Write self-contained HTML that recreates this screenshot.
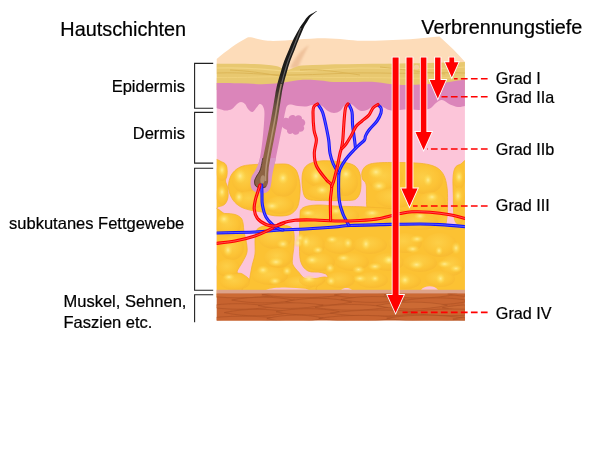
<!DOCTYPE html>
<html lang="de"><head><meta charset="utf-8"><title>Hautschichten und Verbrennungstiefe</title>
<style>
html,body{margin:0;padding:0;background:#fff;}
body{width:600px;height:450px;overflow:hidden;position:relative;}
svg{display:block;position:absolute;left:0;top:0;}
text{font-family:"Liberation Sans",Arial,Helvetica,sans-serif;fill:#000;}
</style></head><body>
<svg width="600" height="450" viewBox="0 0 600 450">
<defs>
<clipPath id="face"><rect x="216.7" y="58" width="248.2" height="262.6"/></clipPath>
<linearGradient id="hairg" gradientUnits="userSpaceOnUse" x1="0" y1="12" x2="0" y2="190">
<stop offset="0" stop-color="#151515"/><stop offset="0.35" stop-color="#1e1c1b"/><stop offset="0.44" stop-color="#3d322b"/><stop offset="0.53" stop-color="#6b5240"/><stop offset="0.66" stop-color="#8c6647"/><stop offset="1" stop-color="#8e6242"/>
</linearGradient>
<radialGradient id="hl"><stop offset="0" stop-color="#fff3a0" stop-opacity="0.85"/><stop offset="0.5" stop-color="#ffe468" stop-opacity="0.5"/><stop offset="1" stop-color="#ffd84a" stop-opacity="0"/></radialGradient>
<radialGradient id="lobe" cx="0.45" cy="0.4" r="0.7"><stop offset="0" stop-color="#fdd34e"/><stop offset="0.6" stop-color="#fcc336"/><stop offset="1" stop-color="#f4b22e"/></radialGradient>
<filter id="blur1" x="-30%" y="-30%" width="160%" height="160%"><feGaussianBlur stdDeviation="1.3"/></filter>
</defs>

<path d="M216.7,59 C226,51 237,43 247.5,37.5 C252,36.6 258,39.5 268,40.8 C285,41.5 305,38.2 325,38.3 C340,38.4 350,40.8 362,40.8 C380,40.8 395,39.8 410,39.2 C422,38.6 432,37.2 439.5,36.6 C449,45 458,54 465,62 L464.9,74 L216.7,74 Z" fill="#fddcb9"/>
<path d="M290,68 C295,57 301,50 309,45 C305,52 301,60 298,68 Z" fill="#eebf98" opacity="0.9" filter="url(#blur1)"/>
<g clip-path="url(#face)">
<rect x="216" y="78" width="250" height="217" fill="#fcc5d9"/>
<path d="M216,63.8 C240,63.5 262,63.5 276,66 C282,67.5 284,70 288,70 C292,69 296,66 302,65.5 C330,64 360,64 400,63.5 C425,63 450,62.5 465,62 L466,90 L216,90 Z" fill="#e8c870"/>
<path d="M217,68 C240,67 260,69 285,71 C310,73 330,68 360,68 C400,68 430,70 465,67" fill="none" stroke="#f2d584" stroke-width="1.2"/>
<path d="M217,73 C245,72 262,75 290,75 C320,75 350,72 380,73 C410,74 440,72 465,73" fill="none" stroke="#dcb658" stroke-width="1.0"/>
<path d="M217,77.5 C245,78 270,76 300,77 C330,78 360,77 395,78 C425,79 445,77 465,77" fill="none" stroke="#f0d17c" stroke-width="1.0"/>
<path d="M230,70 C250,71 262,73 280,76" fill="none" stroke="#d9b252" stroke-width="0.8"/>
<path d="M300,70 C320,69 340,72 360,75" fill="none" stroke="#d9b252" stroke-width="0.8"/>
<path d="M380,67 C400,69 420,72 445,74" fill="none" stroke="#d9b252" stroke-width="0.8"/>
<ellipse cx="416.5" cy="67.2" rx="2.6" ry="2.4" fill="#f6cfa0"/>
<path d="M216,83 C220.0,83.0 232.3,83.1 240.0,83.3 C247.7,83.5 255.3,84.2 262.0,84.2 C268.7,84.2 273.2,83.7 280.0,83.0 C286.8,82.3 296.3,80.2 303.0,79.8 C309.7,79.4 315.0,80.1 320.0,80.5 C325.0,80.9 328.0,81.8 333.0,82.0 C338.0,82.2 343.5,82.0 350.0,82.0 C356.5,82.0 365.3,81.5 372.0,81.8 C378.7,82.1 385.0,83.5 390.0,84.0 C395.0,84.5 397.0,84.9 402.0,85.0 C407.0,85.1 413.3,84.9 420.0,84.6 C426.7,84.3 436.2,83.6 442.0,83.0 C447.8,82.4 451.2,81.6 455.0,81.0 C458.8,80.4 463.3,79.8 465.0,79.5 L465,106 C463.8,106.2 460.5,107.2 458.0,107.0 C455.5,106.8 452.7,105.7 450.0,104.5 C447.3,103.3 444.3,100.2 442.0,100.0 C439.7,99.8 438.0,101.6 436.0,103.0 C434.0,104.4 432.7,107.3 430.0,108.5 C427.3,109.7 423.0,109.8 420.0,110.0 C417.0,110.2 414.7,109.6 412.0,109.5 C409.3,109.4 406.7,109.3 404.0,109.5 C401.3,109.7 398.5,110.4 396.0,110.5 C393.5,110.6 391.2,110.6 389.0,110.0 C386.8,109.4 384.8,107.9 383.0,107.0 C381.2,106.1 379.7,104.7 378.0,104.5 C376.3,104.3 374.8,105.1 373.0,106.0 C371.2,106.9 369.0,109.2 367.0,110.0 C365.0,110.8 362.8,111.3 361.0,111.0 C359.2,110.7 357.5,109.1 356.0,108.0 C354.5,106.9 353.3,105.2 352.0,104.5 C350.7,103.8 349.3,103.2 348.0,103.5 C346.7,103.8 345.3,104.8 344.0,106.0 C342.7,107.2 341.7,109.8 340.0,111.0 C338.3,112.2 336.0,113.0 334.0,113.0 C332.0,113.0 330.0,112.2 328.0,111.0 C326.0,109.8 323.8,107.2 322.0,106.0 C320.2,104.8 319.2,104.2 317.5,104.0 C315.8,103.8 313.9,104.6 312.0,105.0 C310.1,105.4 308.3,106.3 306.0,106.5 C303.7,106.7 300.5,106.3 298.0,106.0 C295.5,105.7 292.8,104.5 291.0,104.5 C289.2,104.5 288.0,104.8 287.0,106.0 C286.0,107.2 285.8,109.7 285.2,112.0 C284.6,114.3 284.6,115.3 283.6,120.0 C282.7,124.7 280.9,133.3 279.5,140.0 C278.1,146.7 276.7,154.2 275.5,160.0 C274.3,165.8 273.0,171.2 272.3,175.0 C271.6,178.8 271.8,180.6 271.3,183.0 C270.8,185.4 270.6,187.8 269.5,189.5 C268.4,191.2 266.9,192.4 265.0,193.0 C263.1,193.6 260.1,193.5 258.0,193.0 C255.9,192.5 253.8,191.5 252.5,190.0 C251.2,188.5 250.7,186.2 250.5,184.0 C250.3,181.8 250.7,179.3 251.5,177.0 C252.3,174.7 254.2,172.8 255.5,170.0 C256.8,167.2 258.3,165.0 259.5,160.0 C260.7,155.0 261.7,146.7 262.5,140.0 C263.3,133.3 263.9,125.0 264.2,120.0 C264.5,115.0 264.6,112.5 264.2,110.0 C263.8,107.5 262.8,106.0 262.0,105.0 C261.2,104.0 260.3,103.7 259.5,104.0 C258.7,104.3 258.2,105.7 257.0,107.0 C255.8,108.3 254.0,111.7 252.5,112.0 C251.0,112.3 249.2,110.3 248.0,109.0 C246.8,107.7 246.2,105.2 245.0,104.0 C243.8,102.8 242.3,102.0 241.0,102.0 C239.7,102.0 238.5,102.8 237.0,104.0 C235.5,105.2 233.8,107.9 232.0,109.0 C230.2,110.1 227.8,110.4 226.0,110.5 C224.2,110.6 222.7,109.9 221.0,109.5 C219.3,109.1 216.8,108.2 216.0,108.0 Z" fill="#db85ba"/>
<path d="M283,119 C285,117 287,117.5 288.5,118.5 C289,115 293.5,114 295.5,116.5 C298,114 302.5,115.5 302,119 C305.5,119.5 306.5,124 303.5,126 C305.5,129 303,132.5 299.5,131.5 C299,135 294.5,136 292.5,133 C290,135 286.5,133.5 287,130 C284,129 282,127 281,125 Z" fill="#db85ba"/>
<clipPath id="fatclip">
<path d="M213.0,163.0 C214.5,155.7 219.8,161.5 222.0,162.0 C224.2,162.5 225.7,163.8 226.5,166.0 C227.3,168.2 227.2,172.5 227.0,175.0 C226.8,177.5 225.4,179.0 225.5,181.0 C225.6,183.0 227.1,184.3 227.5,187.0 C227.9,189.7 228.4,194.2 228.0,197.0 C227.6,199.8 226.5,202.4 225.0,204.0 C223.5,205.6 221.0,206.2 219.0,206.5 C217.0,206.8 214.0,213.2 213.0,206.0 C212.0,198.8 211.5,170.3 213.0,163.0 Z"/>
<path d="M228.6,189.0 C228.1,185.3 228.9,181.1 230.0,178.0 C231.1,174.9 232.8,172.5 235.0,170.5 C237.2,168.5 239.7,167.0 243.0,166.0 C246.3,165.0 250.5,164.8 255.0,164.5 C259.5,164.2 265.0,164.6 270.0,164.5 C275.0,164.4 281.3,163.7 285.0,164.0 C288.7,164.3 290.0,165.2 292.0,166.5 C294.0,167.8 295.7,168.9 297.0,172.0 C298.3,175.1 299.6,180.7 300.0,185.0 C300.4,189.3 300.0,194.2 299.5,198.0 C299.0,201.8 298.6,205.2 297.0,208.0 C295.4,210.8 292.8,213.2 290.0,214.5 C287.2,215.8 283.3,215.9 280.0,216.0 C276.7,216.1 273.0,215.7 270.0,215.0 C267.0,214.3 265.0,212.8 262.0,212.0 C259.0,211.2 255.5,211.3 252.0,210.5 C248.5,209.7 244.2,208.8 241.0,207.0 C237.8,205.2 235.1,203.0 233.0,200.0 C230.9,197.0 229.1,192.7 228.6,189.0 Z"/>
<path d="M302.0,181.0 C301.9,176.8 302.3,172.8 303.5,170.0 C304.7,167.2 306.2,165.5 309.0,164.0 C311.8,162.5 316.2,161.5 320.0,161.0 C323.8,160.5 327.8,160.8 332.0,161.0 C336.2,161.2 341.2,161.7 345.0,162.5 C348.8,163.3 352.5,164.1 355.0,166.0 C357.5,167.9 359.0,170.8 360.0,174.0 C361.0,177.2 361.1,181.7 361.0,185.0 C360.9,188.3 360.5,191.6 359.5,194.0 C358.5,196.4 357.4,198.4 355.0,199.5 C352.6,200.6 350.8,200.3 345.0,200.5 C339.2,200.7 326.0,200.7 320.0,200.5 C314.0,200.3 311.7,200.4 309.0,199.5 C306.3,198.6 305.2,198.1 304.0,195.0 C302.8,191.9 302.1,185.2 302.0,181.0 Z"/>
<path d="M362.0,172.0 C362.6,169.8 363.7,167.5 366.0,166.0 C368.3,164.5 370.3,163.6 376.0,163.0 C381.7,162.4 392.7,162.4 400.0,162.5 C407.3,162.6 414.7,162.8 420.0,163.3 C425.3,163.8 428.7,164.4 432.0,165.5 C435.3,166.6 437.8,167.9 440.0,170.0 C442.2,172.1 443.8,174.7 445.0,178.0 C446.2,181.3 446.9,185.5 447.3,190.0 C447.7,194.5 447.6,200.5 447.5,205.0 C447.4,209.5 447.5,213.3 447.0,217.0 C446.5,220.7 446.3,224.5 444.5,227.0 C442.7,229.5 443.4,231.5 436.0,232.0 C428.6,232.5 410.7,231.7 400.0,230.0 C389.3,228.3 377.5,225.7 372.0,222.0 C366.5,218.3 367.9,212.5 367.0,208.0 C366.1,203.5 366.7,199.0 366.5,195.0 C366.3,191.0 366.7,186.7 366.0,184.0 C365.3,181.3 363.2,181.0 362.5,179.0 C361.8,177.0 361.4,174.2 362.0,172.0 Z"/>
<path d="M470.0,164.0 C468.3,153.8 462.5,163.8 460.0,164.5 C457.5,165.2 456.2,165.8 455.0,168.0 C453.8,170.2 453.3,173.5 453.0,178.0 C452.7,182.5 453.2,189.7 453.3,195.0 C453.4,200.3 453.3,206.0 453.5,210.0 C453.7,214.0 453.8,216.7 454.5,219.0 C455.2,221.3 455.4,222.8 458.0,224.0 C460.6,225.2 468.0,236.0 470.0,226.0 C472.0,216.0 471.7,174.2 470.0,164.0 Z"/>
<path d="M212.0,214.5 C214.2,201.2 221.2,213.5 225.0,213.5 C228.8,213.5 232.3,213.8 235.0,214.5 C237.7,215.2 239.7,216.6 241.0,218.0 C242.3,219.4 242.5,220.7 243.0,223.0 C243.5,225.3 243.5,229.2 244.0,232.0 C244.5,234.8 245.5,236.7 246.0,240.0 C246.5,243.3 247.6,248.3 247.0,252.0 C246.4,255.7 244.2,258.7 242.5,262.0 C240.8,265.3 237.1,270.0 237.0,272.0 C236.9,274.0 240.1,272.7 242.0,273.8 C243.9,274.9 247.0,276.8 248.5,278.5 C250.0,280.2 250.4,281.6 251.0,284.0 C251.6,286.4 258.5,291.5 252.0,293.0 C245.5,294.5 218.7,306.1 212.0,293.0 C205.3,279.9 209.8,227.8 212.0,214.5 Z"/>
<path d="M255.0,240.0 C255.2,236.2 254.8,233.2 256.0,231.0 C257.2,228.8 258.8,227.5 262.0,226.5 C265.2,225.5 270.7,225.1 275.0,225.0 C279.3,224.9 284.9,225.0 288.0,226.0 C291.1,227.0 292.5,227.8 293.5,231.0 C294.5,234.2 294.2,240.5 294.0,245.0 C293.8,249.5 292.7,254.7 292.5,258.0 C292.3,261.3 291.9,262.6 293.0,265.0 C294.1,267.4 297.0,270.2 299.0,272.5 C301.0,274.8 302.3,277.5 305.0,278.5 C307.7,279.5 311.2,278.6 315.0,278.5 C318.8,278.4 325.2,275.6 328.0,278.0 C330.8,280.4 345.3,290.5 332.0,293.0 C318.7,295.5 261.8,295.2 248.0,293.0 C234.2,290.8 248.8,284.5 249.5,280.0 C250.2,275.5 251.1,270.3 252.0,266.0 C252.9,261.7 254.5,258.3 255.0,254.0 C255.5,249.7 254.8,243.8 255.0,240.0 Z"/>
<path d="M300.0,215.0 C300.3,209.8 300.2,210.5 301.5,209.0 C302.8,207.5 304.9,206.7 308.0,206.0 C311.1,205.3 315.5,205.0 320.0,205.0 C324.5,205.0 330.0,205.8 335.0,206.0 C340.0,206.2 345.0,206.3 350.0,206.5 C355.0,206.7 356.7,206.4 365.0,207.0 C373.3,207.6 388.2,207.5 400.0,210.0 C411.8,212.5 428.7,219.3 436.0,222.0 C443.3,224.7 441.7,225.5 444.0,226.0 C446.3,226.5 448.2,225.2 450.0,225.0 C451.8,224.8 453.3,224.8 455.0,224.5 C456.7,224.2 457.5,223.4 460.0,223.0 C462.5,222.6 468.3,210.3 470.0,222.0 C471.7,233.7 494.0,281.2 470.0,293.0 C446.0,304.8 349.7,295.7 326.0,293.0 C302.3,290.3 328.8,280.4 328.0,277.0 C327.2,273.6 324.3,273.5 321.0,272.5 C317.7,271.5 311.4,272.9 308.0,271.0 C304.6,269.1 301.9,266.2 300.5,261.0 C299.1,255.8 299.6,247.7 299.5,240.0 C299.4,232.3 299.7,220.2 300.0,215.0 Z"/>
</clipPath>
<path d="M213.0,163.0 C214.5,155.7 219.8,161.5 222.0,162.0 C224.2,162.5 225.7,163.8 226.5,166.0 C227.3,168.2 227.2,172.5 227.0,175.0 C226.8,177.5 225.4,179.0 225.5,181.0 C225.6,183.0 227.1,184.3 227.5,187.0 C227.9,189.7 228.4,194.2 228.0,197.0 C227.6,199.8 226.5,202.4 225.0,204.0 C223.5,205.6 221.0,206.2 219.0,206.5 C217.0,206.8 214.0,213.2 213.0,206.0 C212.0,198.8 211.5,170.3 213.0,163.0 Z" fill="#fcc233" stroke="#f4b42e" stroke-width="0.8"/>
<path d="M228.6,189.0 C228.1,185.3 228.9,181.1 230.0,178.0 C231.1,174.9 232.8,172.5 235.0,170.5 C237.2,168.5 239.7,167.0 243.0,166.0 C246.3,165.0 250.5,164.8 255.0,164.5 C259.5,164.2 265.0,164.6 270.0,164.5 C275.0,164.4 281.3,163.7 285.0,164.0 C288.7,164.3 290.0,165.2 292.0,166.5 C294.0,167.8 295.7,168.9 297.0,172.0 C298.3,175.1 299.6,180.7 300.0,185.0 C300.4,189.3 300.0,194.2 299.5,198.0 C299.0,201.8 298.6,205.2 297.0,208.0 C295.4,210.8 292.8,213.2 290.0,214.5 C287.2,215.8 283.3,215.9 280.0,216.0 C276.7,216.1 273.0,215.7 270.0,215.0 C267.0,214.3 265.0,212.8 262.0,212.0 C259.0,211.2 255.5,211.3 252.0,210.5 C248.5,209.7 244.2,208.8 241.0,207.0 C237.8,205.2 235.1,203.0 233.0,200.0 C230.9,197.0 229.1,192.7 228.6,189.0 Z" fill="#fcc233" stroke="#f4b42e" stroke-width="0.8"/>
<path d="M302.0,181.0 C301.9,176.8 302.3,172.8 303.5,170.0 C304.7,167.2 306.2,165.5 309.0,164.0 C311.8,162.5 316.2,161.5 320.0,161.0 C323.8,160.5 327.8,160.8 332.0,161.0 C336.2,161.2 341.2,161.7 345.0,162.5 C348.8,163.3 352.5,164.1 355.0,166.0 C357.5,167.9 359.0,170.8 360.0,174.0 C361.0,177.2 361.1,181.7 361.0,185.0 C360.9,188.3 360.5,191.6 359.5,194.0 C358.5,196.4 357.4,198.4 355.0,199.5 C352.6,200.6 350.8,200.3 345.0,200.5 C339.2,200.7 326.0,200.7 320.0,200.5 C314.0,200.3 311.7,200.4 309.0,199.5 C306.3,198.6 305.2,198.1 304.0,195.0 C302.8,191.9 302.1,185.2 302.0,181.0 Z" fill="#fcc233" stroke="#f4b42e" stroke-width="0.8"/>
<path d="M362.0,172.0 C362.6,169.8 363.7,167.5 366.0,166.0 C368.3,164.5 370.3,163.6 376.0,163.0 C381.7,162.4 392.7,162.4 400.0,162.5 C407.3,162.6 414.7,162.8 420.0,163.3 C425.3,163.8 428.7,164.4 432.0,165.5 C435.3,166.6 437.8,167.9 440.0,170.0 C442.2,172.1 443.8,174.7 445.0,178.0 C446.2,181.3 446.9,185.5 447.3,190.0 C447.7,194.5 447.6,200.5 447.5,205.0 C447.4,209.5 447.5,213.3 447.0,217.0 C446.5,220.7 446.3,224.5 444.5,227.0 C442.7,229.5 443.4,231.5 436.0,232.0 C428.6,232.5 410.7,231.7 400.0,230.0 C389.3,228.3 377.5,225.7 372.0,222.0 C366.5,218.3 367.9,212.5 367.0,208.0 C366.1,203.5 366.7,199.0 366.5,195.0 C366.3,191.0 366.7,186.7 366.0,184.0 C365.3,181.3 363.2,181.0 362.5,179.0 C361.8,177.0 361.4,174.2 362.0,172.0 Z" fill="#fcc233" stroke="#f4b42e" stroke-width="0.8"/>
<path d="M470.0,164.0 C468.3,153.8 462.5,163.8 460.0,164.5 C457.5,165.2 456.2,165.8 455.0,168.0 C453.8,170.2 453.3,173.5 453.0,178.0 C452.7,182.5 453.2,189.7 453.3,195.0 C453.4,200.3 453.3,206.0 453.5,210.0 C453.7,214.0 453.8,216.7 454.5,219.0 C455.2,221.3 455.4,222.8 458.0,224.0 C460.6,225.2 468.0,236.0 470.0,226.0 C472.0,216.0 471.7,174.2 470.0,164.0 Z" fill="#fcc233" stroke="#f4b42e" stroke-width="0.8"/>
<path d="M212.0,214.5 C214.2,201.2 221.2,213.5 225.0,213.5 C228.8,213.5 232.3,213.8 235.0,214.5 C237.7,215.2 239.7,216.6 241.0,218.0 C242.3,219.4 242.5,220.7 243.0,223.0 C243.5,225.3 243.5,229.2 244.0,232.0 C244.5,234.8 245.5,236.7 246.0,240.0 C246.5,243.3 247.6,248.3 247.0,252.0 C246.4,255.7 244.2,258.7 242.5,262.0 C240.8,265.3 237.1,270.0 237.0,272.0 C236.9,274.0 240.1,272.7 242.0,273.8 C243.9,274.9 247.0,276.8 248.5,278.5 C250.0,280.2 250.4,281.6 251.0,284.0 C251.6,286.4 258.5,291.5 252.0,293.0 C245.5,294.5 218.7,306.1 212.0,293.0 C205.3,279.9 209.8,227.8 212.0,214.5 Z" fill="#fcc233" stroke="#f4b42e" stroke-width="0.8"/>
<path d="M255.0,240.0 C255.2,236.2 254.8,233.2 256.0,231.0 C257.2,228.8 258.8,227.5 262.0,226.5 C265.2,225.5 270.7,225.1 275.0,225.0 C279.3,224.9 284.9,225.0 288.0,226.0 C291.1,227.0 292.5,227.8 293.5,231.0 C294.5,234.2 294.2,240.5 294.0,245.0 C293.8,249.5 292.7,254.7 292.5,258.0 C292.3,261.3 291.9,262.6 293.0,265.0 C294.1,267.4 297.0,270.2 299.0,272.5 C301.0,274.8 302.3,277.5 305.0,278.5 C307.7,279.5 311.2,278.6 315.0,278.5 C318.8,278.4 325.2,275.6 328.0,278.0 C330.8,280.4 345.3,290.5 332.0,293.0 C318.7,295.5 261.8,295.2 248.0,293.0 C234.2,290.8 248.8,284.5 249.5,280.0 C250.2,275.5 251.1,270.3 252.0,266.0 C252.9,261.7 254.5,258.3 255.0,254.0 C255.5,249.7 254.8,243.8 255.0,240.0 Z" fill="#fcc233" stroke="#f4b42e" stroke-width="0.8"/>
<path d="M300.0,215.0 C300.3,209.8 300.2,210.5 301.5,209.0 C302.8,207.5 304.9,206.7 308.0,206.0 C311.1,205.3 315.5,205.0 320.0,205.0 C324.5,205.0 330.0,205.8 335.0,206.0 C340.0,206.2 345.0,206.3 350.0,206.5 C355.0,206.7 356.7,206.4 365.0,207.0 C373.3,207.6 388.2,207.5 400.0,210.0 C411.8,212.5 428.7,219.3 436.0,222.0 C443.3,224.7 441.7,225.5 444.0,226.0 C446.3,226.5 448.2,225.2 450.0,225.0 C451.8,224.8 453.3,224.8 455.0,224.5 C456.7,224.2 457.5,223.4 460.0,223.0 C462.5,222.6 468.3,210.3 470.0,222.0 C471.7,233.7 494.0,281.2 470.0,293.0 C446.0,304.8 349.7,295.7 326.0,293.0 C302.3,290.3 328.8,280.4 328.0,277.0 C327.2,273.6 324.3,273.5 321.0,272.5 C317.7,271.5 311.4,272.9 308.0,271.0 C304.6,269.1 301.9,266.2 300.5,261.0 C299.1,255.8 299.6,247.7 299.5,240.0 C299.4,232.3 299.7,220.2 300.0,215.0 Z" fill="#fcc233" stroke="#f4b42e" stroke-width="0.8"/>
<g clip-path="url(#fatclip)">
<ellipse cx="222" cy="172" rx="6" ry="9" fill="url(#lobe)" opacity="0.75"/>
<ellipse cx="222" cy="195" rx="6" ry="10" fill="url(#lobe)" opacity="0.75"/>
<ellipse cx="245" cy="180" rx="13" ry="13" fill="url(#lobe)" opacity="0.75"/>
<ellipse cx="250" cy="200" rx="16" ry="9" fill="url(#lobe)" opacity="0.75"/>
<ellipse cx="283" cy="182" rx="14" ry="15" fill="url(#lobe)" opacity="0.75"/>
<ellipse cx="280" cy="205" rx="14" ry="9" fill="url(#lobe)" opacity="0.75"/>
<ellipse cx="320" cy="175" rx="16" ry="12" fill="url(#lobe)" opacity="0.75"/>
<ellipse cx="345" cy="182" rx="13" ry="14" fill="url(#lobe)" opacity="0.75"/>
<ellipse cx="325" cy="192" rx="18" ry="8" fill="url(#lobe)" opacity="0.75"/>
<ellipse cx="385" cy="178" rx="18" ry="13" fill="url(#lobe)" opacity="0.75"/>
<ellipse cx="425" cy="180" rx="18" ry="14" fill="url(#lobe)" opacity="0.75"/>
<ellipse cx="395" cy="198" rx="20" ry="10" fill="url(#lobe)" opacity="0.75"/>
<ellipse cx="432" cy="202" rx="14" ry="10" fill="url(#lobe)" opacity="0.75"/>
<ellipse cx="459" cy="178" rx="6" ry="11" fill="url(#lobe)" opacity="0.75"/>
<ellipse cx="459" cy="197" rx="6" ry="10" fill="url(#lobe)" opacity="0.75"/>
<ellipse cx="228" cy="225" rx="13" ry="11" fill="url(#lobe)" opacity="0.75"/>
<ellipse cx="232" cy="248" rx="12" ry="12" fill="url(#lobe)" opacity="0.75"/>
<ellipse cx="228" cy="268" rx="12" ry="9" fill="url(#lobe)" opacity="0.75"/>
<ellipse cx="235" cy="282" rx="15" ry="8" fill="url(#lobe)" opacity="0.75"/>
<ellipse cx="275" cy="238" rx="17" ry="11" fill="url(#lobe)" opacity="0.75"/>
<ellipse cx="278" cy="258" rx="14" ry="10" fill="url(#lobe)" opacity="0.75"/>
<ellipse cx="270" cy="276" rx="18" ry="9" fill="url(#lobe)" opacity="0.75"/>
<ellipse cx="300" cy="283" rx="16" ry="7" fill="url(#lobe)" opacity="0.75"/>
<ellipse cx="318" cy="218" rx="15" ry="9" fill="url(#lobe)" opacity="0.75"/>
<ellipse cx="345" cy="216" rx="14" ry="8" fill="url(#lobe)" opacity="0.75"/>
<ellipse cx="375" cy="218" rx="14" ry="8" fill="url(#lobe)" opacity="0.75"/>
<ellipse cx="420" cy="222" rx="18" ry="8" fill="url(#lobe)" opacity="0.75"/>
<ellipse cx="450" cy="222" rx="12" ry="8" fill="url(#lobe)" opacity="0.75"/>
<ellipse cx="312" cy="245" rx="13" ry="11" fill="url(#lobe)" opacity="0.75"/>
<ellipse cx="340" cy="245" rx="16" ry="9" fill="url(#lobe)" opacity="0.75"/>
<ellipse cx="370" cy="245" rx="17" ry="9" fill="url(#lobe)" opacity="0.75"/>
<ellipse cx="405" cy="243" rx="17" ry="10" fill="url(#lobe)" opacity="0.75"/>
<ellipse cx="440" cy="245" rx="17" ry="12" fill="url(#lobe)" opacity="0.75"/>
<ellipse cx="320" cy="262" rx="15" ry="9" fill="url(#lobe)" opacity="0.75"/>
<ellipse cx="352" cy="262" rx="17" ry="9" fill="url(#lobe)" opacity="0.75"/>
<ellipse cx="388" cy="262" rx="16" ry="9" fill="url(#lobe)" opacity="0.75"/>
<ellipse cx="420" cy="263" rx="17" ry="9" fill="url(#lobe)" opacity="0.75"/>
<ellipse cx="452" cy="266" rx="12" ry="10" fill="url(#lobe)" opacity="0.75"/>
<ellipse cx="312" cy="280" rx="13" ry="7" fill="url(#lobe)" opacity="0.75"/>
<ellipse cx="340" cy="280" rx="15" ry="8" fill="url(#lobe)" opacity="0.75"/>
<ellipse cx="372" cy="280" rx="16" ry="8" fill="url(#lobe)" opacity="0.75"/>
<ellipse cx="405" cy="281" rx="16" ry="8" fill="url(#lobe)" opacity="0.75"/>
<ellipse cx="440" cy="279" rx="15" ry="8" fill="url(#lobe)" opacity="0.75"/>
</g>
<clipPath id="shc"><rect x="244" y="158" width="36" height="42"/></clipPath>
<path d="M216,83 C220.0,83.0 232.3,83.1 240.0,83.3 C247.7,83.5 255.3,84.2 262.0,84.2 C268.7,84.2 273.2,83.7 280.0,83.0 C286.8,82.3 296.3,80.2 303.0,79.8 C309.7,79.4 315.0,80.1 320.0,80.5 C325.0,80.9 328.0,81.8 333.0,82.0 C338.0,82.2 343.5,82.0 350.0,82.0 C356.5,82.0 365.3,81.5 372.0,81.8 C378.7,82.1 385.0,83.5 390.0,84.0 C395.0,84.5 397.0,84.9 402.0,85.0 C407.0,85.1 413.3,84.9 420.0,84.6 C426.7,84.3 436.2,83.6 442.0,83.0 C447.8,82.4 451.2,81.6 455.0,81.0 C458.8,80.4 463.3,79.8 465.0,79.5 L465,106 C463.8,106.2 460.5,107.2 458.0,107.0 C455.5,106.8 452.7,105.7 450.0,104.5 C447.3,103.3 444.3,100.2 442.0,100.0 C439.7,99.8 438.0,101.6 436.0,103.0 C434.0,104.4 432.7,107.3 430.0,108.5 C427.3,109.7 423.0,109.8 420.0,110.0 C417.0,110.2 414.7,109.6 412.0,109.5 C409.3,109.4 406.7,109.3 404.0,109.5 C401.3,109.7 398.5,110.4 396.0,110.5 C393.5,110.6 391.2,110.6 389.0,110.0 C386.8,109.4 384.8,107.9 383.0,107.0 C381.2,106.1 379.7,104.7 378.0,104.5 C376.3,104.3 374.8,105.1 373.0,106.0 C371.2,106.9 369.0,109.2 367.0,110.0 C365.0,110.8 362.8,111.3 361.0,111.0 C359.2,110.7 357.5,109.1 356.0,108.0 C354.5,106.9 353.3,105.2 352.0,104.5 C350.7,103.8 349.3,103.2 348.0,103.5 C346.7,103.8 345.3,104.8 344.0,106.0 C342.7,107.2 341.7,109.8 340.0,111.0 C338.3,112.2 336.0,113.0 334.0,113.0 C332.0,113.0 330.0,112.2 328.0,111.0 C326.0,109.8 323.8,107.2 322.0,106.0 C320.2,104.8 319.2,104.2 317.5,104.0 C315.8,103.8 313.9,104.6 312.0,105.0 C310.1,105.4 308.3,106.3 306.0,106.5 C303.7,106.7 300.5,106.3 298.0,106.0 C295.5,105.7 292.8,104.5 291.0,104.5 C289.2,104.5 288.0,104.8 287.0,106.0 C286.0,107.2 285.8,109.7 285.2,112.0 C284.6,114.3 284.6,115.3 283.6,120.0 C282.7,124.7 280.9,133.3 279.5,140.0 C278.1,146.7 276.7,154.2 275.5,160.0 C274.3,165.8 273.0,171.2 272.3,175.0 C271.6,178.8 271.8,180.6 271.3,183.0 C270.8,185.4 270.6,187.8 269.5,189.5 C268.4,191.2 266.9,192.4 265.0,193.0 C263.1,193.6 260.1,193.5 258.0,193.0 C255.9,192.5 253.8,191.5 252.5,190.0 C251.2,188.5 250.7,186.2 250.5,184.0 C250.3,181.8 250.7,179.3 251.5,177.0 C252.3,174.7 254.2,172.8 255.5,170.0 C256.8,167.2 258.3,165.0 259.5,160.0 C260.7,155.0 261.7,146.7 262.5,140.0 C263.3,133.3 263.9,125.0 264.2,120.0 C264.5,115.0 264.6,112.5 264.2,110.0 C263.8,107.5 262.8,106.0 262.0,105.0 C261.2,104.0 260.3,103.7 259.5,104.0 C258.7,104.3 258.2,105.7 257.0,107.0 C255.8,108.3 254.0,111.7 252.5,112.0 C251.0,112.3 249.2,110.3 248.0,109.0 C246.8,107.7 246.2,105.2 245.0,104.0 C243.8,102.8 242.3,102.0 241.0,102.0 C239.7,102.0 238.5,102.8 237.0,104.0 C235.5,105.2 233.8,107.9 232.0,109.0 C230.2,110.1 227.8,110.4 226.0,110.5 C224.2,110.6 222.7,109.9 221.0,109.5 C219.3,109.1 216.8,108.2 216.0,108.0 Z" fill="#da96c5" clip-path="url(#shc)"/>
<path d="M266,289.8 C272,287.4 285,287 296,288 C300,288.5 304,288 309,289.8 Z" fill="#fcc4d8"/>
<path d="M341,289.8 C344,287.5 349,287.5 352,289.8 Z" fill="#fcc4d8"/>
<path d="M421,289.8 C424,285.5 434,284.5 438,289.8 Z" fill="#fcc4d8"/>
<rect x="216" y="289.8" width="250" height="4.2" fill="#dda389"/>
<rect x="216" y="293.6" width="250" height="28" fill="#c7632f"/>
<clipPath id="mus"><rect x="216" y="293.7" width="250" height="28"/></clipPath>
<g clip-path="url(#mus)">
<path d="M199.0,294.4 C222.3,289.9 253.2,289.9 276.4,295.1 C253.2,298.9 222.3,298.9 199.0,294.4 Z" fill="#cc6a34" stroke="#a64e21" stroke-width="0.6" stroke-opacity="0.85"/>
<path d="M261.9,294.8 C288.1,290.7 322.9,290.7 349.1,294.0 C322.9,298.8 288.1,298.8 261.9,294.8 Z" fill="#ca6732" stroke="#a64e21" stroke-width="0.6" stroke-opacity="0.85"/>
<path d="M334.4,295.0 C352.0,290.6 375.4,290.6 393.0,295.2 C375.4,299.4 352.0,299.4 334.4,295.0 Z" fill="#c86430" stroke="#a64e21" stroke-width="0.6" stroke-opacity="0.85"/>
<path d="M384.1,294.9 C406.0,290.5 435.2,290.5 457.2,293.9 C435.2,299.2 406.0,299.2 384.1,294.9 Z" fill="#cc6a34" stroke="#a64e21" stroke-width="0.6" stroke-opacity="0.85"/>
<path d="M447.7,293.9 C464.9,290.1 487.8,290.1 505.0,294.4 C487.8,297.7 464.9,297.7 447.7,293.9 Z" fill="#c86430" stroke="#a64e21" stroke-width="0.6" stroke-opacity="0.85"/>
<path d="M231.8,300.0 C250.7,296.2 275.8,296.2 294.6,300.3 C275.8,303.8 250.7,303.8 231.8,300.0 Z" fill="#c86430" stroke="#a64e21" stroke-width="0.6" stroke-opacity="0.85"/>
<path d="M285.7,301.7 C305.5,297.1 332.0,297.1 351.8,302.1 C332.0,306.3 305.5,306.3 285.7,301.7 Z" fill="#c86430" stroke="#a64e21" stroke-width="0.6" stroke-opacity="0.85"/>
<path d="M340.8,299.5 C360.1,295.6 385.8,295.6 405.0,299.3 C385.8,303.4 360.1,303.4 340.8,299.5 Z" fill="#c86430" stroke="#a64e21" stroke-width="0.6" stroke-opacity="0.85"/>
<path d="M400.1,301.3 C421.3,296.8 449.4,296.8 470.6,300.8 C449.4,305.9 421.3,305.9 400.1,301.3 Z" fill="#c86430" stroke="#a64e21" stroke-width="0.6" stroke-opacity="0.85"/>
<path d="M466.2,301.0 C483.3,297.0 506.2,297.0 523.3,300.1 C506.2,305.0 483.3,305.0 466.2,301.0 Z" fill="#c86531" stroke="#a64e21" stroke-width="0.6" stroke-opacity="0.85"/>
<path d="M205.6,306.4 C225.3,302.7 251.6,302.7 271.4,306.9 C251.6,310.1 225.3,310.1 205.6,306.4 Z" fill="#c86531" stroke="#a64e21" stroke-width="0.6" stroke-opacity="0.85"/>
<path d="M258.2,305.7 C277.7,302.0 303.6,302.0 323.1,305.1 C303.6,309.4 277.7,309.4 258.2,305.7 Z" fill="#c86531" stroke="#a64e21" stroke-width="0.6" stroke-opacity="0.85"/>
<path d="M315.0,307.4 C336.8,303.6 366.0,303.6 387.9,307.2 C366.0,311.1 336.8,311.1 315.0,307.4 Z" fill="#ca6732" stroke="#a64e21" stroke-width="0.6" stroke-opacity="0.85"/>
<path d="M376.6,305.6 C397.8,301.0 426.1,301.0 447.4,305.2 C426.1,310.2 397.8,310.2 376.6,305.6 Z" fill="#cc6a34" stroke="#a64e21" stroke-width="0.6" stroke-opacity="0.85"/>
<path d="M442.4,307.7 C461.5,303.7 486.8,303.7 505.9,306.9 C486.8,311.6 461.5,311.6 442.4,307.7 Z" fill="#cc6a34" stroke="#a64e21" stroke-width="0.6" stroke-opacity="0.85"/>
<path d="M224.3,312.6 C243.9,308.2 270.0,308.2 289.6,312.4 C270.0,317.0 243.9,317.0 224.3,312.6 Z" fill="#c5612d" stroke="#a64e21" stroke-width="0.6" stroke-opacity="0.85"/>
<path d="M276.0,311.8 C295.1,307.6 320.4,307.6 339.4,311.6 C320.4,316.1 295.1,316.1 276.0,311.8 Z" fill="#c5612d" stroke="#a64e21" stroke-width="0.6" stroke-opacity="0.85"/>
<path d="M330.3,313.2 C358.4,309.1 395.7,309.1 423.7,312.5 C395.7,317.3 358.4,317.3 330.3,313.2 Z" fill="#c86531" stroke="#a64e21" stroke-width="0.6" stroke-opacity="0.85"/>
<path d="M405.6,312.4 C433.0,308.0 469.5,308.0 496.9,311.7 C469.5,316.8 433.0,316.8 405.6,312.4 Z" fill="#ca6732" stroke="#a64e21" stroke-width="0.6" stroke-opacity="0.85"/>
<path d="M201.1,319.2 C225.8,315.2 258.8,315.2 283.6,319.0 C258.8,323.1 225.8,323.1 201.1,319.2 Z" fill="#c86430" stroke="#a64e21" stroke-width="0.6" stroke-opacity="0.85"/>
<path d="M266.9,318.6 C283.8,314.0 306.5,314.0 323.4,318.1 C306.5,323.1 283.8,323.1 266.9,318.6 Z" fill="#c86531" stroke="#a64e21" stroke-width="0.6" stroke-opacity="0.85"/>
<path d="M318.9,318.4 C342.6,314.5 374.1,314.5 397.8,317.7 C374.1,322.3 342.6,322.3 318.9,318.4 Z" fill="#c86430" stroke="#a64e21" stroke-width="0.6" stroke-opacity="0.85"/>
<path d="M386.8,318.2 C411.2,314.0 443.6,314.0 468.0,319.0 C443.6,322.4 411.2,322.4 386.8,318.2 Z" fill="#ca6732" stroke="#a64e21" stroke-width="0.6" stroke-opacity="0.85"/>
<path d="M452.9,319.1 C469.6,315.2 491.9,315.2 508.6,318.2 C491.9,322.9 469.6,322.9 452.9,319.1 Z" fill="#c86430" stroke="#a64e21" stroke-width="0.6" stroke-opacity="0.85"/>
</g>
<ellipse cx="222" cy="170" rx="4.0" ry="6.4" fill="url(#hl)"/>
<ellipse cx="222" cy="192" rx="4.0" ry="6.4" fill="url(#hl)"/>
<ellipse cx="240" cy="176" rx="6.4" ry="8.0" fill="url(#hl)"/>
<ellipse cx="239" cy="197" rx="4.8" ry="6.4" fill="url(#hl)"/>
<ellipse cx="283" cy="178" rx="5.6" ry="6.4" fill="url(#hl)"/>
<ellipse cx="272" cy="206" rx="8.0" ry="4.8" fill="url(#hl)"/>
<ellipse cx="316" cy="176" rx="6.4" ry="8.0" fill="url(#hl)"/>
<ellipse cx="346" cy="174" rx="6.4" ry="6.4" fill="url(#hl)"/>
<ellipse cx="322" cy="190" rx="6.4" ry="4.8" fill="url(#hl)"/>
<ellipse cx="376" cy="172" rx="8.0" ry="6.4" fill="url(#hl)"/>
<ellipse cx="379" cy="186" rx="8.0" ry="5.6" fill="url(#hl)"/>
<ellipse cx="428" cy="180" rx="4.8" ry="6.4" fill="url(#hl)"/>
<ellipse cx="432" cy="197" rx="6.4" ry="4.8" fill="url(#hl)"/>
<ellipse cx="459" cy="177" rx="4.0" ry="6.4" fill="url(#hl)"/>
<ellipse cx="458" cy="196" rx="4.0" ry="6.4" fill="url(#hl)"/>
<ellipse cx="224" cy="219" rx="6.4" ry="5.6" fill="url(#hl)"/>
<ellipse cx="228" cy="250" rx="4.8" ry="6.4" fill="url(#hl)"/>
<ellipse cx="229" cy="277" rx="6.4" ry="4.0" fill="url(#hl)"/>
<ellipse cx="300" cy="238" rx="4.8" ry="4.8" fill="url(#hl)"/>
<ellipse cx="298" cy="243" rx="4.8" ry="4.8" fill="url(#hl)"/>
<ellipse cx="283" cy="244" rx="6.4" ry="4.8" fill="url(#hl)"/>
<ellipse cx="276" cy="262" rx="8.0" ry="4.8" fill="url(#hl)"/>
<ellipse cx="263" cy="270" rx="6.4" ry="4.8" fill="url(#hl)"/>
<ellipse cx="287" cy="271" rx="4.8" ry="4.8" fill="url(#hl)"/>
<ellipse cx="275" cy="281" rx="6.4" ry="4.0" fill="url(#hl)"/>
<ellipse cx="308" cy="213" rx="8.0" ry="4.0" fill="url(#hl)"/>
<ellipse cx="336" cy="211" rx="6.4" ry="4.0" fill="url(#hl)"/>
<ellipse cx="372" cy="213" rx="8.0" ry="4.0" fill="url(#hl)"/>
<ellipse cx="420" cy="216" rx="6.4" ry="4.0" fill="url(#hl)"/>
<ellipse cx="306" cy="241.7" rx="4.8" ry="6.4" fill="url(#hl)"/>
<ellipse cx="332" cy="239.5" rx="6.4" ry="4.0" fill="url(#hl)"/>
<ellipse cx="318" cy="250" rx="5.6" ry="4.0" fill="url(#hl)"/>
<ellipse cx="312" cy="260" rx="7.2" ry="4.8" fill="url(#hl)"/>
<ellipse cx="343.5" cy="258" rx="7.2" ry="4.0" fill="url(#hl)"/>
<ellipse cx="348" cy="243" rx="4.8" ry="5.6" fill="url(#hl)"/>
<ellipse cx="366" cy="244" rx="4.8" ry="6.4" fill="url(#hl)"/>
<ellipse cx="330" cy="268" rx="4.8" ry="4.8" fill="url(#hl)"/>
<ellipse cx="358.5" cy="269.5" rx="6.4" ry="4.0" fill="url(#hl)"/>
<ellipse cx="375" cy="266.5" rx="7.2" ry="4.0" fill="url(#hl)"/>
<ellipse cx="360" cy="278.5" rx="7.2" ry="4.0" fill="url(#hl)"/>
<ellipse cx="375" cy="278.5" rx="4.8" ry="4.0" fill="url(#hl)"/>
<ellipse cx="309" cy="279" rx="7.2" ry="4.0" fill="url(#hl)"/>
<ellipse cx="331" cy="281" rx="4.8" ry="4.8" fill="url(#hl)"/>
<ellipse cx="388.5" cy="260" rx="6.4" ry="4.8" fill="url(#hl)"/>
<ellipse cx="417" cy="239" rx="7.2" ry="4.0" fill="url(#hl)"/>
<ellipse cx="412.7" cy="249" rx="7.2" ry="4.0" fill="url(#hl)"/>
<ellipse cx="439" cy="250.7" rx="4.0" ry="4.8" fill="url(#hl)"/>
<ellipse cx="416.5" cy="264.7" rx="8.0" ry="4.8" fill="url(#hl)"/>
<ellipse cx="444.5" cy="264" rx="7.2" ry="4.0" fill="url(#hl)"/>
<ellipse cx="456" cy="268.5" rx="6.4" ry="4.0" fill="url(#hl)"/>
<ellipse cx="405" cy="280" rx="5.6" ry="5.6" fill="url(#hl)"/>
<ellipse cx="440.6" cy="278.6" rx="4.8" ry="5.6" fill="url(#hl)"/>
<ellipse cx="389" cy="260" rx="4.8" ry="4.8" fill="url(#hl)"/>
<ellipse cx="456" cy="248" rx="4.8" ry="6.4" fill="url(#hl)"/>
</g>
<g clip-path="url(#face)">
<path d="M215.0,233.0 C221.7,232.8 244.0,232.5 255.0,232.0 C266.0,231.5 272.7,230.5 281.0,230.0 C289.3,229.5 296.0,229.5 305.0,229.0 C314.0,228.5 327.5,227.6 335.0,227.0 C342.5,226.4 340.8,225.9 350.0,225.5 C359.2,225.1 378.3,224.7 390.0,224.4 C401.7,224.2 411.7,224.0 420.0,224.0 C428.3,224.0 432.2,224.1 440.0,224.6 C447.8,225.1 462.5,226.4 467.0,226.8" fill="none" stroke="#1515ff" stroke-width="3.1" stroke-linecap="round" stroke-linejoin="round"/>
<path d="M215.0,233.0 C221.7,232.8 244.0,232.5 255.0,232.0 C266.0,231.5 272.7,230.5 281.0,230.0 C289.3,229.5 296.0,229.5 305.0,229.0 C314.0,228.5 327.5,227.6 335.0,227.0 C342.5,226.4 340.8,225.9 350.0,225.5 C359.2,225.1 378.3,224.7 390.0,224.4 C401.7,224.2 411.7,224.0 420.0,224.0 C428.3,224.0 432.2,224.1 440.0,224.6 C447.8,225.1 462.5,226.4 467.0,226.8" fill="none" stroke="#b0b0ff" stroke-width="0.45" stroke-linecap="round"/>
<path d="M349.0,104.5 C349.5,105.8 351.4,108.6 352.0,112.0 C352.6,115.4 352.2,120.7 352.6,125.0 C353.0,129.3 353.8,134.2 354.3,138.0 C354.8,141.8 355.3,146.3 355.5,148.0" fill="none" stroke="#1515ff" stroke-width="3.1" stroke-linecap="round" stroke-linejoin="round"/>
<path d="M349.0,104.5 C349.5,105.8 351.4,108.6 352.0,112.0 C352.6,115.4 352.2,120.7 352.6,125.0 C353.0,129.3 353.8,134.2 354.3,138.0 C354.8,141.8 355.3,146.3 355.5,148.0" fill="none" stroke="#b0b0ff" stroke-width="0.45" stroke-linecap="round"/>
<path d="M378.0,105.0 C378.5,105.5 380.5,106.7 381.0,108.0 C381.5,109.3 381.7,110.8 381.0,113.0 C380.3,115.2 379.0,118.2 377.0,121.0 C375.0,123.8 370.9,127.5 369.0,130.0 C367.1,132.5 366.2,134.3 365.5,136.0 C364.8,137.7 365.6,138.4 364.5,140.0 C363.4,141.6 360.6,143.5 358.7,145.3 C356.8,147.1 355.5,148.2 353.3,150.7 C351.1,153.1 347.5,156.9 345.3,160.0 C343.1,163.1 341.1,166.5 340.0,169.3 C338.9,172.1 338.8,171.9 338.7,177.0 C338.6,182.1 338.5,193.8 339.2,200.0 C339.9,206.2 341.4,209.8 343.0,214.0 C344.6,218.2 348.0,223.6 349.0,225.5" fill="none" stroke="#1515ff" stroke-width="3.1" stroke-linecap="round" stroke-linejoin="round"/>
<path d="M378.0,105.0 C378.5,105.5 380.5,106.7 381.0,108.0 C381.5,109.3 381.7,110.8 381.0,113.0 C380.3,115.2 379.0,118.2 377.0,121.0 C375.0,123.8 370.9,127.5 369.0,130.0 C367.1,132.5 366.2,134.3 365.5,136.0 C364.8,137.7 365.6,138.4 364.5,140.0 C363.4,141.6 360.6,143.5 358.7,145.3 C356.8,147.1 355.5,148.2 353.3,150.7 C351.1,153.1 347.5,156.9 345.3,160.0 C343.1,163.1 341.1,166.5 340.0,169.3 C338.9,172.1 338.8,171.9 338.7,177.0 C338.6,182.1 338.5,193.8 339.2,200.0 C339.9,206.2 341.4,209.8 343.0,214.0 C344.6,218.2 348.0,223.6 349.0,225.5" fill="none" stroke="#b0b0ff" stroke-width="0.45" stroke-linecap="round"/>
<path d="M318.0,104.5 C318.8,105.8 321.2,108.4 322.5,112.0 C323.8,115.6 325.0,121.3 326.0,126.0 C327.0,130.7 328.0,135.4 328.7,140.0 C329.4,144.6 329.2,149.3 330.0,153.3 C330.8,157.3 331.9,160.7 333.3,164.0 C334.7,167.3 337.6,171.5 338.5,173.0" fill="none" stroke="#1515ff" stroke-width="3.1" stroke-linecap="round" stroke-linejoin="round"/>
<path d="M318.0,104.5 C318.8,105.8 321.2,108.4 322.5,112.0 C323.8,115.6 325.0,121.3 326.0,126.0 C327.0,130.7 328.0,135.4 328.7,140.0 C329.4,144.6 329.2,149.3 330.0,153.3 C330.8,157.3 331.9,160.7 333.3,164.0 C334.7,167.3 337.6,171.5 338.5,173.0" fill="none" stroke="#b0b0ff" stroke-width="0.45" stroke-linecap="round"/>
<path d="M215.0,243.5 C218.3,243.1 228.3,242.2 235.0,241.0 C241.7,239.8 249.3,237.8 255.0,236.0 C260.7,234.2 264.7,232.1 269.0,230.0 C273.3,227.9 276.7,225.1 281.0,223.5 C285.3,221.9 289.3,220.9 295.0,220.3 C300.7,219.7 308.3,219.9 315.0,220.0 C321.7,220.1 327.5,220.9 335.0,221.0 C342.5,221.1 352.5,220.9 360.0,220.5 C367.5,220.1 373.3,219.7 380.0,218.5 C386.7,217.3 394.7,214.7 400.0,213.6 C405.3,212.5 407.0,212.0 412.0,211.8 C417.0,211.6 423.7,211.7 430.0,212.2 C436.3,212.7 443.8,213.7 450.0,214.8 C456.2,215.9 464.2,218.3 467.0,219.0" fill="none" stroke="#ff0000" stroke-width="3.1" stroke-linecap="round" stroke-linejoin="round"/>
<path d="M215.0,243.5 C218.3,243.1 228.3,242.2 235.0,241.0 C241.7,239.8 249.3,237.8 255.0,236.0 C260.7,234.2 264.7,232.1 269.0,230.0 C273.3,227.9 276.7,225.1 281.0,223.5 C285.3,221.9 289.3,220.9 295.0,220.3 C300.7,219.7 308.3,219.9 315.0,220.0 C321.7,220.1 327.5,220.9 335.0,221.0 C342.5,221.1 352.5,220.9 360.0,220.5 C367.5,220.1 373.3,219.7 380.0,218.5 C386.7,217.3 394.7,214.7 400.0,213.6 C405.3,212.5 407.0,212.0 412.0,211.8 C417.0,211.6 423.7,211.7 430.0,212.2 C436.3,212.7 443.8,213.7 450.0,214.8 C456.2,215.9 464.2,218.3 467.0,219.0" fill="none" stroke="#ffb0b0" stroke-width="0.45" stroke-linecap="round"/>
<path d="M317.5,104.0 C316.9,104.4 314.8,105.2 314.0,106.5 C313.2,107.8 313.0,108.1 313.0,112.0 C313.0,115.9 313.4,125.3 314.0,130.0 C314.6,134.7 316.3,136.2 316.4,140.0 C316.4,143.8 314.3,148.7 314.3,153.0 C314.3,157.3 314.5,161.5 316.5,166.0 C318.5,170.5 324.0,176.8 326.5,180.0 C329.0,183.2 331.0,182.2 331.6,185.5 C332.2,188.8 330.6,194.2 330.4,200.0 C330.2,205.8 330.6,217.1 330.6,220.5" fill="none" stroke="#ff0000" stroke-width="3.1" stroke-linecap="round" stroke-linejoin="round"/>
<path d="M317.5,104.0 C316.9,104.4 314.8,105.2 314.0,106.5 C313.2,107.8 313.0,108.1 313.0,112.0 C313.0,115.9 313.4,125.3 314.0,130.0 C314.6,134.7 316.3,136.2 316.4,140.0 C316.4,143.8 314.3,148.7 314.3,153.0 C314.3,157.3 314.5,161.5 316.5,166.0 C318.5,170.5 324.0,176.8 326.5,180.0 C329.0,183.2 331.0,182.2 331.6,185.5 C332.2,188.8 330.6,194.2 330.4,200.0 C330.2,205.8 330.6,217.1 330.6,220.5" fill="none" stroke="#ffb0b0" stroke-width="0.45" stroke-linecap="round"/>
<path d="M348.0,103.8 C347.6,104.5 346.2,105.0 345.5,108.0 C344.8,111.0 344.4,116.7 344.0,122.0 C343.6,127.3 343.2,135.7 342.8,140.0 C342.4,144.3 342.0,145.8 341.5,148.0 C341.0,150.2 340.7,150.2 340.0,153.3 C339.3,156.4 338.3,162.2 337.3,166.7 C336.3,171.1 334.9,176.7 334.0,180.0 C333.1,183.3 332.0,185.4 331.6,186.5" fill="none" stroke="#ff0000" stroke-width="3.1" stroke-linecap="round" stroke-linejoin="round"/>
<path d="M348.0,103.8 C347.6,104.5 346.2,105.0 345.5,108.0 C344.8,111.0 344.4,116.7 344.0,122.0 C343.6,127.3 343.2,135.7 342.8,140.0 C342.4,144.3 342.0,145.8 341.5,148.0 C341.0,150.2 340.7,150.2 340.0,153.3 C339.3,156.4 338.3,162.2 337.3,166.7 C336.3,171.1 334.9,176.7 334.0,180.0 C333.1,183.3 332.0,185.4 331.6,186.5" fill="none" stroke="#ffb0b0" stroke-width="0.45" stroke-linecap="round"/>
<path d="M378.0,104.5 C377.2,105.1 374.5,106.2 373.0,108.0 C371.5,109.8 370.8,112.8 369.0,115.0 C367.2,117.2 364.2,119.1 362.0,121.0 C359.8,122.9 357.8,124.0 356.0,126.5 C354.2,129.0 352.7,133.1 351.0,136.0 C349.3,138.9 347.5,141.9 346.0,144.0 C344.5,146.1 342.7,147.8 342.0,148.5" fill="none" stroke="#ff0000" stroke-width="3.1" stroke-linecap="round" stroke-linejoin="round"/>
<path d="M378.0,104.5 C377.2,105.1 374.5,106.2 373.0,108.0 C371.5,109.8 370.8,112.8 369.0,115.0 C367.2,117.2 364.2,119.1 362.0,121.0 C359.8,122.9 357.8,124.0 356.0,126.5 C354.2,129.0 352.7,133.1 351.0,136.0 C349.3,138.9 347.5,141.9 346.0,144.0 C344.5,146.1 342.7,147.8 342.0,148.5" fill="none" stroke="#ffb0b0" stroke-width="0.45" stroke-linecap="round"/>
</g>
<path d="M316.7,11.1 C315.3,11.9 310.4,14.3 308.3,16.1 C306.2,17.9 305.3,19.9 303.9,21.7 C302.5,23.5 301.7,24.4 300.0,27.2 C298.3,30.0 295.8,34.5 293.9,38.3 C292.0,42.1 290.4,46.2 288.8,50.0 C287.2,53.8 285.6,57.4 284.2,61.1 C282.8,64.8 281.8,68.5 280.7,72.2 C279.6,75.9 278.4,79.6 277.5,83.3 C276.6,87.0 276.3,88.3 275.2,94.4 C274.1,100.5 272.9,109.1 270.8,120.0 C268.7,130.9 264.4,151.7 262.6,160.0 C260.8,168.3 261.0,167.3 260.0,170.0 C259.0,172.7 257.4,174.2 256.5,176.0 C255.6,177.8 254.6,179.4 254.3,181.0 C254.1,182.6 254.4,184.4 255.0,185.5 C255.6,186.6 257.5,187.4 258.0,187.8 L262.0,188.3 C262.7,188.1 265.0,188.0 266.0,187.0 C267.0,186.0 267.6,184.3 268.0,182.5 C268.4,180.7 268.1,178.1 268.2,176.0 C268.3,173.9 268.3,172.7 268.6,170.0 C268.9,167.3 268.5,168.3 270.0,160.0 C271.5,151.7 275.7,130.9 277.6,120.0 C279.5,109.1 280.6,100.5 281.6,94.4 C282.6,88.3 282.9,87.0 283.8,83.3 C284.7,79.6 285.7,75.9 286.8,72.2 C287.9,68.5 288.9,64.8 290.2,61.1 C291.5,57.4 293.1,53.8 294.6,50.0 C296.1,46.2 297.6,42.1 299.2,38.3 C300.8,34.5 302.6,30.0 303.9,27.2 C305.2,24.4 306.0,23.5 307.2,21.7 C308.4,19.9 309.5,17.8 311.1,16.1 C312.7,14.4 316.0,12.1 317.0,11.3 Z" fill="url(#hairg)"/>
<path d="M281.3,84.0 C280.9,85.8 280.1,89.0 279.0,95.0 C277.9,101.0 276.8,109.2 274.8,120.0 C272.8,130.8 268.7,151.3 267.2,160.0 C265.7,168.7 266.1,168.5 265.8,172.0 C265.5,175.5 265.6,179.5 265.5,181.0" fill="none" stroke="#c2a283" stroke-width="1.5" opacity="0.75"/>
<path d="M301.0,28.0 C300.3,29.7 298.4,34.6 297.0,38.3 C295.6,42.0 293.9,46.2 292.4,50.0 C290.9,53.8 289.3,57.4 288.0,61.1 C286.7,64.8 285.7,68.5 284.6,72.2 C283.5,75.9 282.1,81.5 281.6,83.3" fill="none" stroke="#7a7a7a" stroke-width="1.1" opacity="0.75"/>
<path d="M262.8,158.0 C262.4,160.0 261.2,167.0 260.2,170.0 C259.2,173.0 257.6,174.2 256.7,176.0 C255.8,177.8 254.8,179.4 254.6,181.0 C254.4,182.6 254.7,184.2 255.3,185.3 C255.9,186.4 257.1,187.1 258.2,187.5 C259.3,187.9 260.7,188.1 262.0,188.0 C263.3,187.9 265.2,187.0 265.8,186.8" fill="none" stroke="#3e2a1e" stroke-width="1" opacity="0.75"/>
<ellipse cx="262.6" cy="179.5" rx="2.2" ry="4.2" fill="#b9977a" opacity="0.8" transform="rotate(8 262.6 179.5)"/>
<g clip-path="url(#face)">
<path d="M261.6,185.0 C261.7,186.5 261.9,190.7 262.0,194.0 C262.1,197.3 261.7,201.2 262.4,205.0 C263.1,208.8 264.2,213.7 266.0,217.0 C267.8,220.3 270.8,223.0 273.0,225.0 C275.2,227.0 277.3,228.2 279.0,229.0 C280.7,229.8 282.3,229.8 283.0,230.0" fill="none" stroke="#1515ff" stroke-width="3.1" stroke-linecap="round" stroke-linejoin="round"/>
<path d="M261.6,185.0 C261.7,186.5 261.9,190.7 262.0,194.0 C262.1,197.3 261.7,201.2 262.4,205.0 C263.1,208.8 264.2,213.7 266.0,217.0 C267.8,220.3 270.8,223.0 273.0,225.0 C275.2,227.0 277.3,228.2 279.0,229.0 C280.7,229.8 282.3,229.8 283.0,230.0" fill="none" stroke="#b0b0ff" stroke-width="0.45" stroke-linecap="round"/>
<path d="M260.0,185.0 C259.6,186.2 258.5,189.7 257.8,192.0 C257.1,194.3 256.2,196.2 255.6,199.0 C255.0,201.8 253.9,205.8 254.2,209.0 C254.5,212.2 255.5,215.9 257.5,218.5 C259.5,221.1 263.1,223.2 266.0,224.5 C268.9,225.8 272.0,226.2 275.0,226.0 C278.0,225.8 282.5,223.5 284.0,223.0" fill="none" stroke="#ff0000" stroke-width="3.1" stroke-linecap="round" stroke-linejoin="round"/>
<path d="M260.0,185.0 C259.6,186.2 258.5,189.7 257.8,192.0 C257.1,194.3 256.2,196.2 255.6,199.0 C255.0,201.8 253.9,205.8 254.2,209.0 C254.5,212.2 255.5,215.9 257.5,218.5 C259.5,221.1 263.1,223.2 266.0,224.5 C268.9,225.8 272.0,226.2 275.0,226.0 C278.0,225.8 282.5,223.5 284.0,223.0" fill="none" stroke="#ffb0b0" stroke-width="0.45" stroke-linecap="round"/>
</g>
<polygon points="392.6,57.6 398.6,57.6 398.6,294.9 403.70000000000005,294.9 395.6,312.9 387.5,294.9 392.6,294.9" fill="#ff0000" stroke="#fff" stroke-width="1.8" stroke-linejoin="miter" stroke-miterlimit="10" paint-order="stroke"/>
<polygon points="406.5,57.6 412.5,57.6 412.5,188.5 417.6,188.5 409.5,206.5 401.4,188.5 406.5,188.5" fill="#ff0000" stroke="#fff" stroke-width="1.8" stroke-linejoin="miter" stroke-miterlimit="10" paint-order="stroke"/>
<polygon points="420.8,57.6 426.40000000000003,57.6 426.40000000000003,131.9 431.70000000000005,131.9 423.6,149.9 415.5,131.9 420.8,131.9" fill="#ff0000" stroke="#fff" stroke-width="1.8" stroke-linejoin="miter" stroke-miterlimit="10" paint-order="stroke"/>
<polygon points="435.1,57.6 440.5,57.6 440.5,80.0 445.90000000000003,80.0 437.8,98.4 429.7,80.0 435.1,80.0" fill="#ff0000" stroke="#fff" stroke-width="1.8" stroke-linejoin="miter" stroke-miterlimit="10" paint-order="stroke"/>
<polygon points="449.40000000000003,57.6 454.2,57.6 454.2,62.2 458.5,62.2 451.8,77.2 445.1,62.2 449.40000000000003,62.2" fill="#ff0000" stroke="#fff" stroke-width="1.8" stroke-linejoin="miter" stroke-miterlimit="10" paint-order="stroke"/>
<line x1="487.6" y1="78.8" x2="454" y2="78.8" stroke="#ff0000" stroke-width="1.6" stroke-dasharray="6.7,3.3"/>
<line x1="487.6" y1="96.8" x2="441.5" y2="96.8" stroke="#ff0000" stroke-width="1.6" stroke-dasharray="6.7,3.3"/>
<line x1="487.6" y1="149" x2="427" y2="149" stroke="#ff0000" stroke-width="1.6" stroke-dasharray="6.7,3.3"/>
<line x1="487.6" y1="206" x2="413" y2="206" stroke="#ff0000" stroke-width="1.6" stroke-dasharray="6.7,3.3"/>
<line x1="487.6" y1="312.4" x2="402.5" y2="312.4" stroke="#ff0000" stroke-width="1.6" stroke-dasharray="6.7,3.3"/>
<path d="M213.2,63.4 L194.6,63.4 L194.6,108.3 L213.2,108.3" fill="none" stroke="#222" stroke-width="1.1"/>
<path d="M213.2,112.4 L194.6,112.4 L194.6,163.1 L213.2,163.1" fill="none" stroke="#222" stroke-width="1.1"/>
<path d="M213.2,168.3 L194.6,168.3 L194.6,290.2 L213.2,290.2" fill="none" stroke="#222" stroke-width="1.1"/>
<path d="M213.2,294.7 L194.6,294.7 L194.6,322.3" fill="none" stroke="#222" stroke-width="1.1"/>
<g opacity="0.999" stroke="#000" stroke-width="0.22">
<text x="60.3" y="35.8" font-size="19.85" text-anchor="start">Hautschichten</text>
<text x="421.3" y="33.8" font-size="19.85" text-anchor="start">Verbrennungstiefe</text>
<text x="185" y="91.7" font-size="16.5" text-anchor="end">Epidermis</text>
<text x="185" y="138.6" font-size="16.5" text-anchor="end">Dermis</text>
<text x="184.3" y="229.1" font-size="16.5" text-anchor="end">subkutanes Fettgewebe</text>
<text x="63.5" y="306.9" font-size="16.5" text-anchor="start">Muskel, Sehnen,</text>
<text x="63.5" y="327.5" font-size="16.5" text-anchor="start">Faszien etc.</text>
<text x="495.8" y="84.2" font-size="16.2" text-anchor="start">Grad I</text>
<text x="495.8" y="102.9" font-size="16.2" text-anchor="start">Grad IIa</text>
<text x="495.8" y="154.6" font-size="16.2" text-anchor="start">Grad IIb</text>
<text x="495.8" y="211.2" font-size="16.2" text-anchor="start">Grad III</text>
<text x="495.8" y="318.8" font-size="16.2" text-anchor="start">Grad IV</text>
</g>
</svg></body></html>
